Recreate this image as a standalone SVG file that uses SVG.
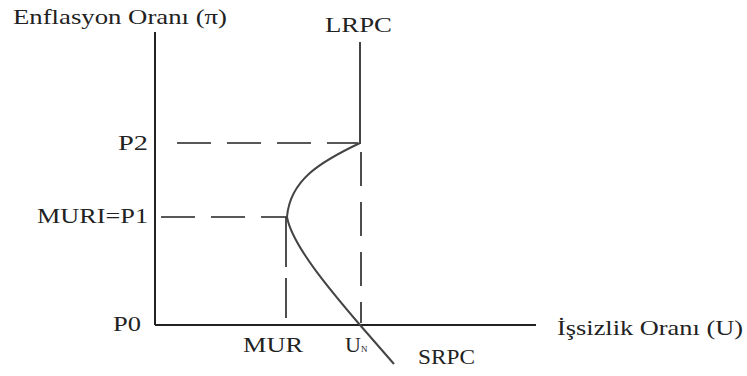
<svg xmlns="http://www.w3.org/2000/svg" width="747" height="376" viewBox="0 0 747 376">
<style>
text{font-family:"Liberation Serif","Times New Roman",serif;font-size:22px;fill:#222}
.ax{stroke:#222;stroke-width:2;fill:none}
.dash{stroke:#222;stroke-width:1.6;fill:none;stroke-dasharray:34 16}
.seg{stroke:#222;stroke-width:1.6;fill:none}
.cur{stroke:#444;stroke-width:2;fill:none}
</style>
<rect width="747" height="376" fill="#fff"/>
<g id="connectors">
<line class="ax" x1="155" y1="32" x2="155" y2="325"/>
<line class="ax" x1="155" y1="325" x2="536" y2="325"/>
<line class="cur" x1="360" y1="42" x2="360" y2="144"/>
<line class="dash" x1="177" y1="143" x2="358" y2="143"/>
<line class="dash" x1="361" y1="152" x2="361" y2="323"/>
<line class="dash" x1="161" y1="217" x2="287" y2="217"/>
<line class="seg" x1="286" y1="217" x2="286" y2="267"/>
<line class="seg" x1="286" y1="278" x2="286" y2="318"/>
<path class="cur" d="M360,143 C320,162 290,180 287,217 C292,245 330,290 360,325 L394,364"/>
</g>
<g id="ylabel"><text x="13" y="24" textLength="214" lengthAdjust="spacingAndGlyphs">Enflasyon Oranı (π)</text></g>
<g id="lrpc"><text x="325" y="32" textLength="67" lengthAdjust="spacingAndGlyphs">LRPC</text></g>
<g id="p2"><text x="118" y="150" textLength="30" lengthAdjust="spacingAndGlyphs">P2</text></g>
<g id="p1"><text x="37" y="223" textLength="111" lengthAdjust="spacingAndGlyphs">MURI=P1</text></g>
<g id="p0"><text x="113" y="331" textLength="28" lengthAdjust="spacingAndGlyphs">P0</text></g>
<g id="mur"><text x="243" y="352" textLength="60" lengthAdjust="spacingAndGlyphs">MUR</text></g>
<g id="un"><text x="345" y="352" font-size="17">U<tspan font-size="9">N</tspan></text></g>
<g id="srpc"><text x="418" y="364" textLength="57" lengthAdjust="spacingAndGlyphs">SRPC</text></g>
<g id="xlabel"><text x="557" y="335" textLength="186" lengthAdjust="spacingAndGlyphs">İşsizlik Oranı (U)</text></g>
</svg>
